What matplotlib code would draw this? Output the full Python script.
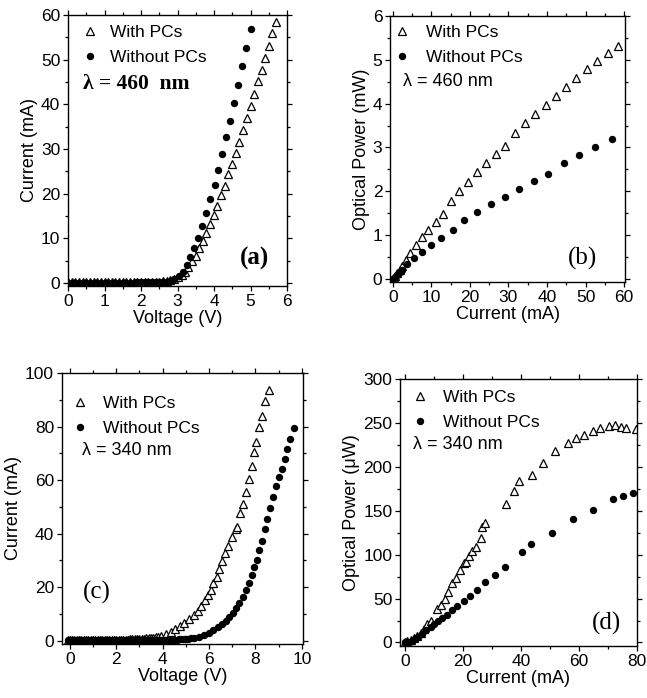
import matplotlib
matplotlib.use("Agg")
import matplotlib.pyplot as plt
from matplotlib.ticker import MultipleLocator, AutoMinorLocator

plt.rcParams["font.family"] = ["Liberation Sans", "DejaVu Sans"]

# ----- (a) I-V, 460 nm -----
a_with_v = [0.0, 0.1, 0.2, 0.3, 0.4, 0.5, 0.6, 0.7, 0.8, 0.9, 1.0, 1.1, 1.2, 1.3, 1.4,
            1.5, 1.6, 1.7, 1.8, 1.9, 2.0, 2.1, 2.2, 2.3, 2.4, 2.5, 2.6, 2.7, 2.8, 2.9,
            3.0, 3.11, 3.2, 3.3, 3.4, 3.5, 3.59, 3.69, 3.79, 3.89, 3.99, 4.09, 4.19,
            4.3, 4.39, 4.49, 4.59, 4.69, 4.79, 4.9, 5.0, 5.1, 5.21, 5.31, 5.4, 5.51,
            5.6, 5.69]
a_with_i = [0.2, 0.2, 0.2, 0.2, 0.2, 0.2, 0.2, 0.2, 0.2, 0.2, 0.2, 0.2, 0.2, 0.2, 0.2,
            0.2, 0.2, 0.2, 0.2, 0.3, 0.3, 0.3, 0.3, 0.3, 0.3, 0.3, 0.4, 0.5, 0.6, 0.8,
            1.2, 1.8, 2.5, 3.5, 4.8, 6.1, 7.8, 9.3, 11.1, 13.1, 15.2, 17.2, 19.6,
            21.8, 24.3, 26.6, 29.1, 31.6, 34.3, 36.9, 39.6, 42.3, 45.1, 47.7, 50.4,
            53.1, 55.9, 58.5]
a_wo_v = [0.0, 0.1, 0.2, 0.3, 0.4, 0.5, 0.6, 0.7, 0.8, 0.9, 1.0, 1.1, 1.2, 1.3, 1.4,
          1.5, 1.6, 1.7, 1.8, 1.9, 2.0, 2.1, 2.2, 2.3, 2.4, 2.5, 2.6, 2.7, 2.8, 2.9,
          3.03, 3.14, 3.25, 3.35, 3.45, 3.57, 3.67, 3.79, 3.89, 4.02, 4.12, 4.23,
          4.34, 4.43, 4.56, 4.65, 4.76, 4.89, 5.0]
a_wo_i = [0.0, 0.0, 0.0, 0.0, 0.0, 0.0, 0.0, 0.0, 0.0, 0.0, 0.0, 0.0, 0.0, 0.0, 0.0,
          0.0, 0.0, 0.0, 0.0, 0.1, 0.1, 0.1, 0.1, 0.1, 0.1, 0.1, 0.2, 0.3, 0.5, 0.9,
          1.6, 2.5, 3.9, 5.7, 7.8, 10.0, 12.7, 15.7, 18.7, 21.9, 25.3, 28.9,
          32.7, 36.3, 40.3, 44.3, 48.5, 52.6, 56.9]

# ----- (b) L-I, 460 nm -----
b_with_i = [0.0, 0.3, 0.7, 1.2, 1.8, 2.5, 3.4, 4.6, 6.1, 7.5, 9.1, 11.1, 13.0, 15.0,
            17.1, 19.4, 21.8, 24.3, 26.7, 29.1, 31.6, 34.2, 36.8, 39.6, 42.2, 44.9,
            47.5, 50.3, 52.9, 55.7, 58.5]
b_with_p = [0.0, 0.03, 0.07, 0.13, 0.2, 0.3, 0.44, 0.6, 0.77, 0.96, 1.12, 1.29, 1.49,
            1.78, 2.0, 2.21, 2.43, 2.64, 2.85, 3.04, 3.34, 3.55, 3.77, 3.97, 4.18,
            4.37, 4.59, 4.78, 4.97, 5.15, 5.32]
b_wo_i = [0.0, 0.3, 0.8, 1.5, 2.3, 3.8, 5.6, 7.5, 9.9, 12.6, 15.6, 18.5, 21.9, 25.4,
          29.0, 32.8, 36.5, 40.3, 44.3, 48.2, 52.4, 56.9]
b_wo_p = [0.0, 0.02, 0.07, 0.13, 0.21, 0.35, 0.47, 0.62, 0.78, 0.93, 1.12, 1.34, 1.52,
          1.70, 1.87, 2.05, 2.24, 2.40, 2.64, 2.83, 3.02, 3.19]

# ----- (c) I-V, 340 nm -----
c_with_v = [-0.1, 0.0, 0.1, 0.2, 0.3, 0.4, 0.5, 0.6, 0.7, 0.8, 0.9, 1.0, 1.1, 1.2,
            1.3, 1.4, 1.5, 1.6, 1.7, 1.8, 1.9, 2.0, 2.1, 2.2, 2.3, 2.4, 2.5, 2.6,
            2.7, 2.8, 2.9, 3.0, 3.1, 3.2, 3.3, 3.4, 3.5, 3.6, 3.7, 3.8, 3.93, 4.13,
            4.34, 4.54, 4.74, 4.94, 5.14, 5.34, 5.51, 5.67, 5.81, 5.94, 6.08, 6.19,
            6.32, 6.44, 6.57, 6.70, 6.82, 6.97, 7.14, 7.20, 7.32, 7.45, 7.57, 7.70,
            7.83, 7.94, 8.03, 8.17, 8.30, 8.43, 8.57]
c_with_i = [0.4, 0.4, 0.4, 0.4, 0.4, 0.4, 0.4, 0.4, 0.4, 0.4, 0.4, 0.4, 0.4, 0.4,
            0.4, 0.4, 0.4, 0.4, 0.4, 0.4, 0.4, 0.4, 0.4, 0.4, 0.4, 0.4, 0.4, 0.5,
            0.5, 0.5, 0.6, 0.6, 0.7, 0.8, 0.9, 1.0, 1.1, 1.2, 1.4, 1.5, 1.7, 2.5,
            3.4, 4.4, 5.5, 6.7, 8.0, 9.5, 11.1, 13.0, 15.2, 17.1, 19.0, 21.4, 23.9,
            26.7, 29.6, 32.7, 35.4, 38.7, 41.8, 42.4, 47.6, 51.1, 55.7, 60.5, 65.1,
            70.3, 74.3, 79.8, 84.0, 89.4, 93.5]
c_wo_v = [-0.1, 0.0, 0.1, 0.2, 0.3, 0.4, 0.5, 0.6, 0.7, 0.8, 0.9, 1.0, 1.1, 1.2,
          1.3, 1.4, 1.5, 1.6, 1.7, 1.8, 1.9, 2.0, 2.1, 2.2, 2.3, 2.4, 2.5, 2.6,
          2.7, 2.8, 2.9, 3.0, 3.1, 3.2, 3.3, 3.4, 3.5, 3.6, 3.7, 3.8, 3.9, 4.0,
          4.1, 4.2, 4.3, 4.4, 4.5, 4.6, 4.7, 4.8, 4.9, 5.0, 5.1, 5.2, 5.34, 5.57,
          5.79, 5.99, 6.19, 6.37, 6.54, 6.71, 6.88, 7.02, 7.17, 7.31, 7.45, 7.58,
          7.70, 7.83, 7.94, 8.05, 8.17, 8.28, 8.41, 8.51, 8.64, 8.77, 8.88, 9.03,
          9.14, 9.27, 9.37, 9.47, 9.66]
c_wo_i = [0.2, 0.2, 0.2, 0.2, 0.2, 0.2, 0.2, 0.2, 0.2, 0.2, 0.2, 0.2, 0.2, 0.2,
          0.2, 0.2, 0.2, 0.2, 0.2, 0.2, 0.2, 0.2, 0.2, 0.2, 0.2, 0.2, 0.2, 0.2,
          0.2, 0.2, 0.2, 0.2, 0.2, 0.2, 0.2, 0.2, 0.2, 0.2, 0.2, 0.2, 0.2, 0.2,
          0.3, 0.3, 0.3, 0.3, 0.4, 0.4, 0.5, 0.5, 0.6, 0.7, 0.8, 0.9, 1.0, 1.5,
          2.1, 3.0, 4.0, 5.0, 6.2, 7.5, 9.0, 10.5, 12.1, 14.2, 16.5, 19.0,
          21.4, 24.6, 27.7, 30.2, 33.9, 37.4, 41.6, 45.4, 49.5, 53.5, 57.6, 61.1,
          64.1, 67.8, 71.6, 75.4, 79.4]

# ----- (d) L-I, 340 nm -----
d_with_i = [0.0, 0.8, 2.0, 3.1, 4.3, 5.4, 6.6, 7.7, 8.9, 11.2, 12.3, 13.8, 15.0, 16.4,
            17.5, 19.1, 20.4, 21.0, 22.1, 23.1, 24.4, 26.1, 26.5, 27.6, 34.8, 37.7,
            39.4, 43.7, 47.7, 51.9, 56.1, 59.0, 61.9, 64.8, 67.4, 70.3, 72.5, 74.6,
            76.3, 79.5]
d_with_p = [1, 2, 3, 5.6, 7.5, 11, 15, 20.7, 24.5, 38, 43, 49, 58, 68,
            73, 82, 90, 92, 98, 104, 109, 119, 131, 135.5, 158, 172,
            184, 191, 204, 218, 227, 233, 236, 241, 244, 246.5, 247.3, 245.4,
            244.3, 243.5]
d_wo_i = [0.0, 1.2, 2.3, 3.5, 4.6, 6.0, 7.4, 8.9, 10.1, 11.5, 12.9, 14.6, 16.4, 18.1,
          20.2, 22.5, 24.8, 27.7, 30.9, 34.6, 40.3, 43.5, 50.6, 58.1, 64.8, 71.9,
          75.2, 78.6]
d_wo_p = [0.0, 0.8, 1.9, 3.8, 6.4, 10.2, 13.9, 17.7, 20.7, 24.5, 27.5, 31.2, 36.5, 41.4,
          47.0, 53.4, 60.2, 68.5, 76.4, 85.8, 103.5, 111.8, 124.2, 141.0, 151.3, 163.0,
          166.3, 170.5]

SANS = ["Liberation Sans", "DejaVu Sans"]
SERIF = ["Liberation Serif", "DejaVu Serif"]

fig = plt.figure(figsize=(6.47, 6.98), dpi=100)
ax_a = fig.add_axes([0.1051, 0.5903, 0.3385, 0.3883])
ax_b = fig.add_axes([0.6028, 0.5960, 0.3632, 0.3811])
ax_c = fig.add_axes([0.0954, 0.0774, 0.3730, 0.3883])
ax_d = fig.add_axes([0.6182, 0.0745, 0.3663, 0.3825])


def draw(ax, xw, yw, xo, yo):
    ax.plot(xw, yw, linestyle="none", marker="^", ms=6.3, mfc="white",
            mec="black", mew=0.9, label="With PCs")
    ax.plot(xo, yo, linestyle="none", marker="o", ms=4.3, mfc="black",
            mec="black", label="Without PCs")


def style(ax, xlabel, ylabel, xmaj, ymaj):
    ax.xaxis.set_major_locator(MultipleLocator(xmaj))
    ax.yaxis.set_major_locator(MultipleLocator(ymaj))
    ax.xaxis.set_minor_locator(AutoMinorLocator(2))
    ax.yaxis.set_minor_locator(AutoMinorLocator(2))
    ax.tick_params(which="both", direction="out", top=True, right=True,
                   labelsize=12.5, width=0.9, pad=2)
    ax.tick_params(which="major", length=3.5)
    ax.tick_params(which="minor", length=2)
    ax.set_xlabel(xlabel, fontsize=13, labelpad=1)
    ax.set_ylabel(ylabel, fontsize=13, labelpad=2)
    for s in ax.spines.values():
        s.set_linewidth(1.0)


def legend(ax, x0, y0, pad):
    ax.legend(loc="upper left", bbox_to_anchor=(x0, y0), frameon=False,
              fontsize=12.5, handlelength=1.0, handletextpad=pad,
              borderpad=0, borderaxespad=0, labelspacing=0.55)


# (a)
draw(ax_a, a_with_v, a_with_i, a_wo_v, a_wo_i)
ax_a.set_xlim(0, 6)
ax_a.set_ylim(-0.7, 60)
style(ax_a, "Voltage (V)", "Current (mA)", 1, 10)
legend(ax_a, 0.061, 0.962, 0.65)
ax_a.text(0.07, 0.745, "λ = 460  nm", transform=ax_a.transAxes, fontsize=15.5,
          fontweight="bold", family=SERIF, va="center")
ax_a.text(0.85, 0.10, "(a)", transform=ax_a.transAxes, fontsize=18,
          fontweight="bold", family=SERIF, ha="center", va="center")

# (b)
draw(ax_b, b_with_i, b_with_p, b_wo_i, b_wo_p)
ax_b.set_xlim(-0.7, 60.2)
ax_b.set_ylim(-0.07, 6)
style(ax_b, "Current (mA)", "Optical Power (mW)", 10, 1)
legend(ax_b, 0.014, 0.965, 0.88)
ax_b.text(0.055, 0.755, "λ = 460 nm", transform=ax_b.transAxes, fontsize=13,
          family=SANS, va="center")
ax_b.text(0.82, 0.09, "(b)", transform=ax_b.transAxes, fontsize=18,
          family=SERIF, ha="center", va="center")

# (c)
draw(ax_c, c_with_v, c_with_i, c_wo_v, c_wo_i)
ax_c.set_xlim(-0.35, 10.05)
ax_c.set_ylim(-1.2, 100)
style(ax_c, "Voltage (V)", "Current (mA)", 2, 20)
legend(ax_c, 0.04, 0.915, 0.82)
ax_c.text(0.083, 0.715, "λ = 340 nm", transform=ax_c.transAxes, fontsize=13,
          family=SANS, va="center")
ax_c.text(0.146, 0.19, "(c)", transform=ax_c.transAxes, fontsize=18,
          family=SERIF, ha="center", va="center")

# (d)
draw(ax_d, d_with_i, d_with_p, d_wo_i, d_wo_p)
ax_d.set_xlim(-1.7, 80)
ax_d.set_ylim(-4, 300)
style(ax_d, "Current (mA)", "Optical Power (μW)", 20, 50)
legend(ax_d, 0.047, 0.958, 0.82)
ax_d.text(0.055, 0.755, "λ = 340 nm", transform=ax_d.transAxes, fontsize=13,
          family=SANS, va="center")
ax_d.text(0.873, 0.086, "(d)", transform=ax_d.transAxes, fontsize=18,
          family=SERIF, ha="center", va="center")

fig.savefig("out.png", dpi=100)
